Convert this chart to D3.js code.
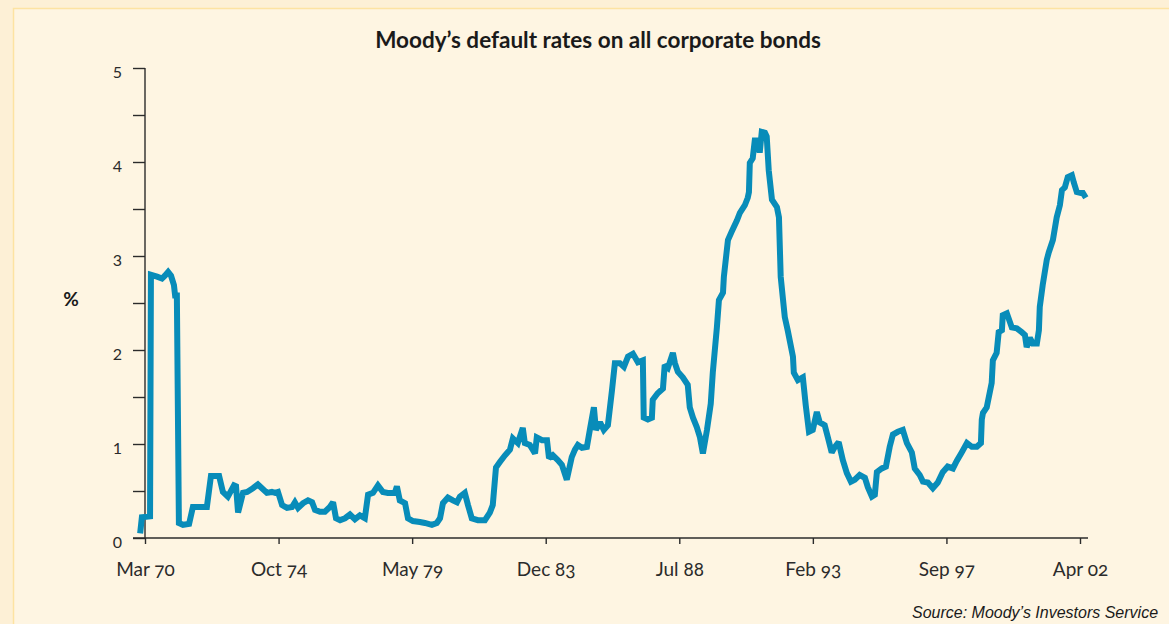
<!DOCTYPE html>
<html lang="en">
  <head>
    <meta charset="UTF-8" />
    <title>Moody's default rates</title>
    <style>
      body { margin: 0; background: #fdf0d6; }
      svg { display: block; }
    </style>
  </head>
  <body>
    <div id="chart"></div>

    <script src="https://cdn.jsdelivr.net/npm/d3@7/dist/d3.min.js"></script>
    <script>
      // decimal years
      var years = [
        1970.00, 1970.06, 1970.34, 1970.37, 1970.58, 1970.75, 1970.85, 1970.96, 1971.06, 1971.16,
        1971.20, 1971.26, 1971.33, 1971.47, 1971.68, 1971.81, 1972.29, 1972.43, 1972.71, 1972.84,
        1973.01, 1973.22, 1973.29, 1973.36, 1973.53, 1973.67, 1973.87, 1974.04, 1974.18, 1974.35,
        1974.52, 1974.63, 1974.73, 1974.87, 1975.04, 1975.21, 1975.31, 1975.42, 1975.59, 1975.76,
        1975.90, 1976.00, 1976.17, 1976.34, 1976.51, 1976.62, 1976.72, 1976.86, 1977.03, 1977.20,
        1977.37, 1977.54, 1977.71, 1977.82, 1977.99, 1978.16, 1978.33, 1978.50, 1978.74, 1978.81,
        1978.91, 1979.09, 1979.19, 1979.36, 1979.60, 1979.77, 1980.01, 1980.18, 1980.29, 1980.39,
        1980.56, 1980.73, 1980.87, 1980.97, 1981.14, 1981.25, 1981.38, 1981.59, 1981.83, 1982.00,
        1982.10, 1982.21, 1982.35, 1982.52, 1982.69, 1982.79, 1982.96, 1983.13, 1983.20, 1983.37,
        1983.55, 1983.61, 1983.79, 1983.96, 1984.03, 1984.16, 1984.33, 1984.47, 1984.64, 1984.81,
        1984.92, 1985.02, 1985.16, 1985.33, 1985.43, 1985.57, 1985.64, 1985.78, 1985.91, 1986.05,
        1986.19, 1986.29, 1986.46, 1986.60, 1986.74, 1986.91, 1987.08, 1987.25, 1987.28, 1987.42,
        1987.56, 1987.59, 1987.76, 1987.94, 1988.00, 1988.11, 1988.28, 1988.35, 1988.45, 1988.62,
        1988.79, 1988.86, 1988.97, 1989.10, 1989.21, 1989.31, 1989.45, 1989.58, 1989.65, 1989.72,
        1989.79, 1989.86, 1990.00, 1990.03, 1990.17, 1990.30, 1990.48, 1990.58, 1990.75, 1990.85,
        1990.89, 1990.92, 1991.02, 1991.09, 1991.20, 1991.26, 1991.33, 1991.44, 1991.50, 1991.57,
        1991.68, 1991.85, 1991.92, 1991.98, 1992.12, 1992.22, 1992.40, 1992.43, 1992.57, 1992.74,
        1992.84, 1992.95, 1993.08, 1993.22, 1993.32, 1993.49, 1993.60, 1993.73, 1993.84, 1993.97,
        1994.11, 1994.25, 1994.39, 1994.52, 1994.69, 1994.87, 1994.97, 1995.11, 1995.21, 1995.28,
        1995.45, 1995.59, 1995.72, 1995.83, 1996.00, 1996.17, 1996.31, 1996.48, 1996.58, 1996.75,
        1996.86, 1997.03, 1997.20, 1997.37, 1997.54, 1997.71, 1997.89, 1998.02, 1998.19, 1998.37,
        1998.54, 1998.71, 1998.85, 1998.88, 1998.92, 1999.05, 1999.22, 1999.26, 1999.39, 1999.46,
        1999.57, 1999.60, 1999.74, 1999.91, 2000.08, 2000.25, 2000.36, 2000.42, 2000.53, 2000.63,
        2000.77, 2000.84, 2000.87, 2000.97, 2001.11, 2001.18, 2001.32, 2001.45, 2001.56, 2001.63,
        2001.73, 2001.83, 2001.97, 2002.04, 2002.14, 2002.28, 2002.35, 2002.45
      ];
      // default rate, %
      var rates = [
        0.05, 0.22, 0.23, 2.80, 2.78, 2.76, 2.79, 2.83, 2.79, 2.69,
        2.58, 2.58, 0.16, 0.14, 0.15, 0.33, 0.33, 0.66, 0.66, 0.49,
        0.44, 0.56, 0.55, 0.27, 0.48, 0.49, 0.53, 0.57, 0.53, 0.48,
        0.49, 0.48, 0.49, 0.35, 0.32, 0.33, 0.38, 0.32, 0.37, 0.40,
        0.38, 0.30, 0.28, 0.28, 0.33, 0.38, 0.21, 0.19, 0.21, 0.25,
        0.20, 0.24, 0.21, 0.46, 0.48, 0.56, 0.49, 0.48, 0.48, 0.55,
        0.40, 0.37, 0.21, 0.18, 0.17, 0.16, 0.14, 0.16, 0.21, 0.37,
        0.43, 0.40, 0.38, 0.44, 0.48, 0.35, 0.21, 0.19, 0.19, 0.27,
        0.35, 0.75, 0.81, 0.88, 0.94, 1.06, 1.01, 1.17, 1.01, 0.99,
        0.90, 1.07, 1.04, 1.04, 0.85, 0.88, 0.83, 0.78, 0.62, 0.86,
        0.94, 0.99, 0.96, 0.97, 1.15, 1.39, 1.15, 1.23, 1.15, 1.20,
        1.57, 1.86, 1.86, 1.82, 1.93, 1.96, 1.87, 1.89, 1.28, 1.26,
        1.28, 1.47, 1.54, 1.59, 1.84, 1.81, 1.97, 1.86, 1.77, 1.71,
        1.63, 1.39, 1.28, 1.18, 1.07, 0.90, 1.15, 1.43, 1.76, 2.00,
        2.24, 2.53, 2.61, 2.78, 3.17, 3.26, 3.38, 3.46, 3.54, 3.62,
        3.68, 3.99, 4.04, 4.23, 4.23, 4.10, 4.32, 4.31, 4.27, 3.91,
        3.60, 3.52, 3.41, 2.78, 2.35, 2.21, 1.93, 1.76, 1.68, 1.71,
        1.41, 1.13, 1.15, 1.34, 1.23, 1.20, 1.07, 0.91, 0.97, 1.02,
        0.83, 0.69, 0.60, 0.62, 0.67, 0.64, 0.54, 0.44, 0.46, 0.70,
        0.74, 0.76, 0.97, 1.10, 1.13, 1.15, 1.01, 0.91, 0.74, 0.67,
        0.60, 0.59, 0.53, 0.59, 0.70, 0.76, 0.74, 0.82, 0.91, 1.01,
        0.97, 0.97, 1.01, 1.26, 1.33, 1.39, 1.65, 1.89, 1.97, 2.19,
        2.21, 2.37, 2.39, 2.24, 2.23, 2.19, 2.16, 2.03, 2.13, 2.07,
        2.07, 2.21, 2.46, 2.69, 2.96, 3.04, 3.17, 3.41, 3.54, 3.70,
        3.73, 3.84, 3.86, 3.78, 3.68, 3.67, 3.67, 3.62
      ];
      var tickYears = [1970 + 2/12, 1974 + 9/12, 1979 + 4/12, 1983 + 11/12, 1988 + 6/12, 1993 + 1/12, 1997 + 8/12, 2002 + 3/12];
      var tickLabels = ["Mar 70", "Oct 74", "May 79", "Dec 83", "Jul 88", "Feb 93", "Sep 97", "Apr 02"];
      var yTicks = [0, 1, 2, 3, 4, 5];

      var width = 1169;
      var height = 624;
      var axisFont = "Lato, 'Open Sans', sans-serif";

      var svg = d3.select("#chart")
                  .append("svg")
                  .attr("width", width)
                  .attr("height", height);

      // panel
      svg.append("rect")
         .attr("x", 13.5)
         .attr("y", 8.5)
         .attr("width", 1200)
         .attr("height", 700)
         .attr("fill", "#fef5e2")
         .attr("stroke", "#fde3a2")
         .attr("stroke-width", 1.5);

      var xScale = d3.scaleLinear()
                     .domain([tickYears[0], tickYears[tickYears.length - 1]])
                     .range([145, 1080]);
      var yScale = d3.scaleLinear()
                     .domain([0, 5])
                     .range([538, 68]);

      // title
      svg.append("text")
         .attr("x", 598)
         .attr("y", 48)
         .attr("text-anchor", "middle")
         .attr("font-family", axisFont)
         .attr("font-weight", "bold")
         .attr("font-size", 22.5)
         .attr("fill", "#1a1a1a")
         .text("Moody\u2019s default rates on all corporate bonds");

      // % label
      svg.append("text")
         .attr("x", 71)
         .attr("y", 306)
         .attr("text-anchor", "middle")
         .attr("font-family", axisFont)
         .attr("font-weight", "bold")
         .attr("font-size", 19)
         .attr("fill", "#1a1a1a")
         .text("%");

      // y axis, minor ticks every 0.5
      var yAxis = d3.axisLeft(yScale)
                    .tickValues(d3.range(0, 5.01, 0.5))
                    .tickSize(12)
                    .tickFormat(function(d) {
                      return yTicks.indexOf(d) > -1 ? d : "";
                    });
      var gy = svg.append("g")
                  .attr("transform", "translate(145,0)")
                  .call(yAxis);
      gy.select(".domain").remove();
      gy.append("line")
        .attr("x1", 0).attr("x2", 0)
        .attr("y1", yScale(5)).attr("y2", yScale(0))
        .attr("stroke", "#2b2b2b").attr("stroke-width", 1.4);
      gy.selectAll(".tick line").attr("stroke", "#2b2b2b").attr("stroke-width", 1.4);
      gy.selectAll(".tick text")
        .attr("x", -23)
        .attr("dy", "0.6em")
        .attr("font-family", axisFont)
        .attr("font-size", 16)
        .attr("fill", "#2b2b2b");

      // x axis
      var xAxis = d3.axisBottom(xScale)
                    .tickValues(tickYears)
                    .tickSize(6)
                    .tickPadding(19)
                    .tickFormat(function(d, i) { return tickLabels[i]; });
      var gx = svg.append("g")
                  .attr("transform", "translate(0,538)")
                  .call(xAxis);
      gx.select(".domain").remove();
      gx.append("line")
        .attr("x1", 133).attr("x2", 1088)
        .attr("y1", 0).attr("y2", 0)
        .attr("stroke", "#2b2b2b").attr("stroke-width", 1.4);
      gx.selectAll(".tick line").attr("stroke", "#2b2b2b").attr("stroke-width", 1.4);
      gx.selectAll(".tick text")
        .attr("font-family", axisFont)
        .attr("font-size", 19)
        .attr("fill", "#2b2b2b")
        .style("font-variant-numeric", "oldstyle-nums");

      // the series
      var data = years.map(function(y, i) { return { year: y, rate: rates[i] }; });
      var line = d3.line()
                   .x(function(d) { return xScale(d.year); })
                   .y(function(d) { return yScale(d.rate); });
      svg.append("path")
         .datum(data)
         .attr("fill", "none")
         .attr("stroke", "#088cb9")
         .attr("stroke-width", 6)
         .attr("stroke-linejoin", "miter")
         .attr("stroke-miterlimit", 2)
         .attr("d", line);

      // source
      svg.append("text")
         .attr("x", 912)
         .attr("y", 618)
         .attr("font-family", "'Liberation Sans', Arial, sans-serif")
         .attr("font-style", "italic")
         .attr("font-size", 16)
         .attr("fill", "#1a1a1a")
         .text("Source: Moody\u2019s Investors Service");
    </script>
  </body>
</html>
